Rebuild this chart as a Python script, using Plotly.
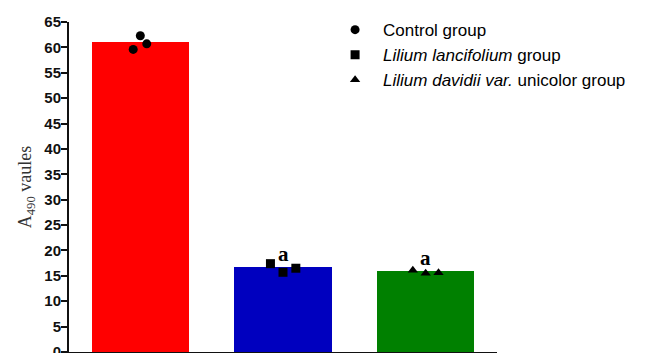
import plotly.graph_objects as go

# ---- data ----
groups = ["Control group", "Lilium lancifolium group", "Lilium davidii var. unicolor group"]
legend_names = ["Control group", "<i>Lilium lancifolium</i> group",
                "<i>Lilium davidii var.</i> unicolor group"]
group_pos = [0, 1, 2]
bar_means = [61.1, 16.8, 16.05]
bar_colors = ["#FF0000", "#0000BF", "#008000"]

control_vals = [59.6, 62.3, 60.7]
lancifolium_vals = [17.4, 15.7, 16.5]
davidii_vals = [16.1, 15.5, 15.6]
point_jitter = [[-0.05, 0.0, 0.045], [-0.088, 0.0, 0.09], [-0.09, 0.0, 0.09]]
point_symbols = ["circle", "square", "triangle-up"]
point_sizes = [9, 9, 9]

sig_labels = ["", "a", "a"]

y_ticks = list(range(0, 70, 5))

fig = go.Figure()

fig.add_trace(go.Bar(
    x=group_pos, y=bar_means, width=0.68,
    marker=dict(color=bar_colors, line=dict(width=0)),
    showlegend=False, hoverinfo="skip"))

all_vals = [control_vals, lancifolium_vals, davidii_vals]
for i, vals in enumerate(all_vals):
    fig.add_trace(go.Scatter(
        x=[group_pos[i] + d for d in point_jitter[i]], y=vals,
        mode="markers", name=legend_names[i], legendgroup=f"g{i}",
        marker=dict(symbol=point_symbols[i], size=point_sizes[i], color="black")))

for i, lab in enumerate(sig_labels):
    if lab:
        fig.add_annotation(x=group_pos[i], y=bar_means[i], text=f"<b>{lab}</b>",
                           showarrow=False, yanchor="bottom", yshift=-1,
                           font=dict(family="Liberation Serif", size=21, color="black"))

fig.update_layout(
    width=646, height=353,
    margin=dict(l=69, r=149, t=22, b=1),
    plot_bgcolor="white", paper_bgcolor="white",
    bargap=0,
    legend=dict(x=0.603, y=1.03, xanchor="left", yanchor="top",
                itemwidth=46,
                font=dict(family="Liberation Sans", size=17, color="black"),
                tracegroupgap=0, bgcolor="rgba(0,0,0,0)"),
    xaxis=dict(range=[-0.5, 2.5], showline=True, linecolor="#111", linewidth=2,
               showticklabels=False, ticks="", showgrid=False, zeroline=False),
    yaxis=dict(range=[0, 65], tickvals=y_ticks, showline=True, linecolor="#111",
               linewidth=2, ticks="outside", ticklen=6, tickwidth=2, tickcolor="#111",
               showgrid=False, zeroline=False, ticklabeloverflow="allow",
               ticklabelstandoff=-3,
               tickfont=dict(family="Liberation Sans", size=15, color="#111", weight="bold"),
               title=dict(text="A<sub>490</sub> vaules", standoff=8,
                          font=dict(family="Liberation Serif", size=18, color="#333")),
               automargin=False),
)

fig.write_html("out.html")
